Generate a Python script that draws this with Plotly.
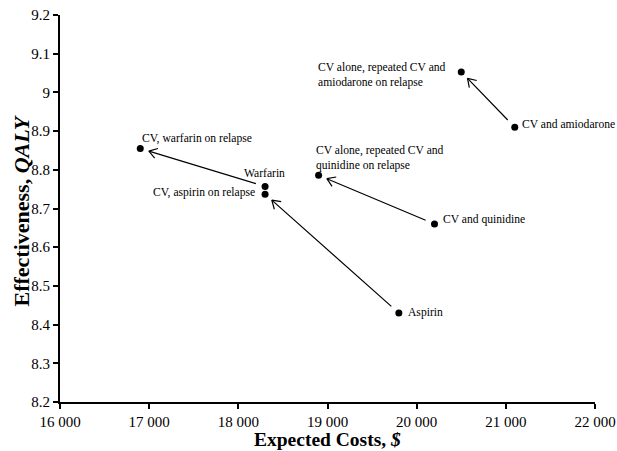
import math
import plotly.graph_objects as go

strategies = [
    "CV, warfarin on relapse",
    "Warfarin",
    "CV, aspirin on relapse",
    "Aspirin",
    "CV alone, repeated CV and<br>quinidine on relapse",
    "CV and quinidine",
    "CV alone, repeated CV and<br>amiodarone on relapse",
    "CV and amiodarone",
]
costs = [16900, 18300, 18300, 19800, 18900, 20200, 20500, 21100]
qaly = [8.855, 8.757, 8.737, 8.430, 8.786, 8.660, 9.053, 8.910]

# arrows: from strategy index -> to strategy index
arrow_from = [1, 3, 5, 7]
arrow_to = [0, 2, 4, 6]

x_ticks = [16000, 17000, 18000, 19000, 20000, 21000, 22000]
x_tick_labels = ["16 000", "17 000", "18 000", "19 000", "20 000", "21 000", "22 000"]
y_ticks = [8.2, 8.3, 8.4, 8.5, 8.6, 8.7, 8.8, 8.9, 9.0, 9.1, 9.2]
y_tick_labels = ["8.2", "8.3", "8.4", "8.5", "8.6", "8.7", "8.8", "8.9", "9", "9.1", "9.2"]

x_title = "<b>Expected Costs, <i>$</i></b>"
y_title = "<b>Effectiveness, <i>QALY</i></b>"

# label placement: (xanchor, xshift, yshift)
label_pos = [
    ("left", 0, 10),
    ("center", -1, 13),
    ("right", -8, 2),
    ("left", 7, 0),
    ("left", -5, 17),
    ("left", 6, 4),
    ("right", -13, -3),
    ("left", 5, 3),
]

FONT = "Liberation Serif"
W, H = 617, 451
ML, MR, MT, MB = 60, 22, 15, 49
XR = [16000, 22000]
YR = [8.2, 9.2]
sx = (W - ML - MR) / (XR[1] - XR[0])   # px per data unit
sy = (H - MT - MB) / (YR[1] - YR[0])

STANDOFF = 9
START_STANDOFF = 8
HEAD_LEN = 11
HEAD_ANG = math.radians(33)

fig = go.Figure()
fig.add_trace(go.Scatter(
    x=costs, y=qaly, mode="markers",
    marker=dict(color="black", size=7),
    hoverinfo="skip", showlegend=False, cliponaxis=False,
))

annotations = []
for name, cx, cy, (xa, xs, ys) in zip(strategies, costs, qaly, label_pos):
    annotations.append(dict(
        x=cx, y=cy, xref="x", yref="y", text=name, showarrow=False,
        xanchor=xa, yanchor="middle", xshift=xs, yshift=ys, align="left",
        font=dict(family=FONT, size=11.6, color="black"),
    ))

for f, t in zip(arrow_from, arrow_to):
    # shaft
    annotations.append(dict(
        x=costs[t], y=qaly[t], ax=costs[f], ay=qaly[f],
        xref="x", yref="y", axref="x", ayref="y",
        text="", showarrow=True, arrowhead=0,
        arrowwidth=1.2, arrowcolor="black", standoff=STANDOFF, startstandoff=START_STANDOFF,
    ))
    # open V head, computed from the axis scales
    dxp = (costs[f] - costs[t]) * sx
    dyp = -(qaly[f] - qaly[t]) * sy
    L = math.hypot(dxp, dyp)
    ux, uy = dxp / L, dyp / L
    tip_x = costs[t] + STANDOFF * ux / sx
    tip_y = qaly[t] - STANDOFF * uy / sy
    for sgn in (1, -1):
        c, s = math.cos(sgn * HEAD_ANG), math.sin(sgn * HEAD_ANG)
        wx = (ux * c - uy * s) * HEAD_LEN
        wy = (ux * s + uy * c) * HEAD_LEN
        annotations.append(dict(
            x=tip_x, y=tip_y, ax=wx, ay=wy,
            xref="x", yref="y", axref="pixel", ayref="pixel",
            text="", showarrow=True, arrowhead=0,
            arrowwidth=1.2, arrowcolor="black",
        ))

# axis titles
annotations.append(dict(
    x=0.5, y=0, xref="paper", yref="paper", text=x_title, showarrow=False,
    xanchor="center", yanchor="middle", yshift=-37,
    font=dict(family=FONT, size=19.5, color="black"),
))
annotations.append(dict(
    x=0, y=0.5, xref="paper", yref="paper", text=y_title, showarrow=False,
    xanchor="center", yanchor="middle", xshift=-39, yshift=-2, textangle=-90,
    font=dict(family=FONT, size=22, color="black"),
))

fig.update_layout(
    width=W, height=H,
    margin=dict(l=ML, r=MR, t=MT, b=MB, autoexpand=False),
    plot_bgcolor="white", paper_bgcolor="white",
    font=dict(family=FONT, color="black"),
    annotations=annotations,
    xaxis=dict(
        range=XR, tickvals=x_ticks, ticktext=x_tick_labels, automargin=False,
        showgrid=False, zeroline=False, showline=True, linecolor="black", linewidth=2,
        ticks="outside", ticklen=5, tickwidth=1.5, tickcolor="black",
        tickfont=dict(family=FONT, size=15, color="black"),
    ),
    yaxis=dict(
        range=YR, tickvals=y_ticks, ticktext=y_tick_labels, automargin=False,
        showgrid=False, zeroline=False, showline=True, linecolor="black", linewidth=2,
        ticks="outside", ticklen=5, tickwidth=1.5, tickcolor="black",
        tickfont=dict(family=FONT, size=15, color="black"),
    ),
)

fig.write_html(
    "out.html",
    config={"displayModeBar": False},
    post_script="document.body.style.margin='0px';document.body.style.overflow='hidden';",
)
